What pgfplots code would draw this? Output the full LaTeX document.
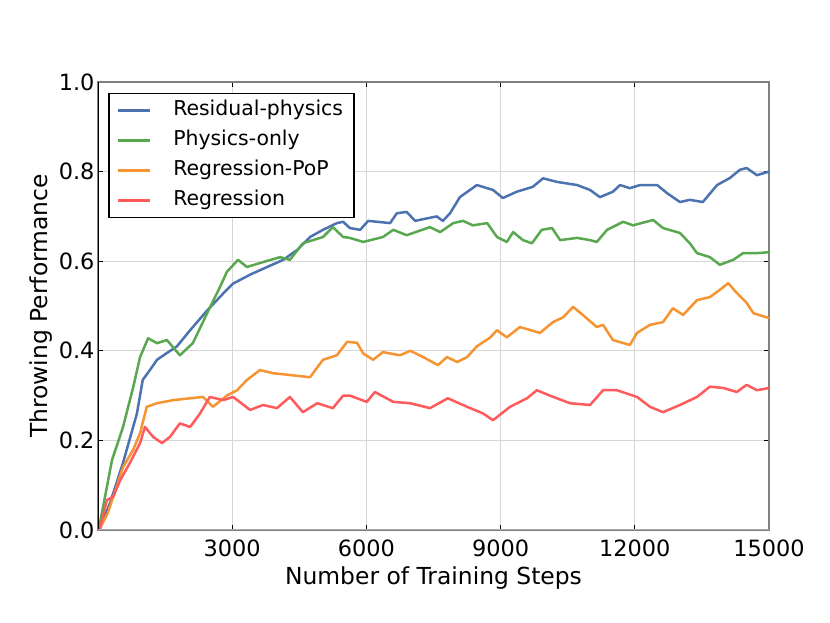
\documentclass[border=0pt]{standalone}
\usepackage{fontspec}
\setmainfont{DejaVu Sans}
\usepackage{pgfplots}
\pgfplotsset{compat=1.18}
\definecolor{cblue}{RGB}{76,114,176}
\definecolor{cgreen}{RGB}{89,168,80}
\definecolor{corange}{RGB}{246,148,50}
\definecolor{cred}{RGB}{255,90,92}
\definecolor{gridc}{RGB}{215,215,215}
\begin{document}
\begin{tikzpicture}
\path[use as bounding box] (0,0) rectangle (830bp,623bp);
\begin{axis}[
  at={(98bp,93bp)}, anchor=south west,
  scale only axis, width=671bp, height=448bp,
  xmin=0, xmax=15000, ymin=0, ymax=1,
  xtick={3000,6000,9000,12000,15000},
  ytick={0,0.2,0.4,0.6,0.8,1.0},
  /pgf/number format/assume math mode=true,
  xticklabel style={/pgf/number format/set thousands separator={}, yshift=-6bp},
  yticklabel style={/pgf/number format/fixed, /pgf/number format/precision=1, /pgf/number format/fixed zerofill},
  scaled x ticks=false,
  tick label style={font=\fontsize{22.5}{26}\selectfont},
  label style={font=\fontsize{23.5}{28}\selectfont},
  xlabel={Number of Training Steps},
  ylabel={Throwing Performance},
  xlabel style={at={(axis description cs:0.5,-0.074)}, anchor=north},
  ylabel style={at={(axis description cs:-0.0626,0.5)}, anchor=south, rotate=0},
  grid=major,
  major grid style={gridc, line width=1bp},
  tick align=inside,
  xtick pos=both, ytick pos=both,
  major tick length=5bp,
  tick style={black, line width=1.2bp},
  axis line style={draw=gray, line width=2bp},
  legend style={at={(axis description cs:0,1)}, anchor=north west, xshift=10bp, yshift=-11bp,
    draw=black, line width=1.5bp, font=\fontsize{20.5}{24}\selectfont,
    inner xsep=8bp, inner ysep=4bp, row sep=4bp,
    nodes={inner sep=3bp, text height=15bp, text depth=5bp},
    /tikz/every odd column/.append style={column sep=19bp}},
  legend cell align=left,
  legend image code/.code={\draw[#1, line width=2.5bp, line cap=butt] (0bp,0bp) -- (32bp,0bp);},
  every axis plot/.append style={line width=2.5bp, line join=round},
]
% Residual-physics
\addplot[cblue] coordinates {
(0,0) (45,0.004) (268,0.06) (560,0.15) (870,0.26) (1000,0.335) (1160,0.357) (1320,0.38)
(1540,0.395) (1765,0.41) (2060,0.446) (2440,0.49) (2800,0.528) (3020,0.55) (3400,0.57)
(3780,0.587) (4140,0.603) (4450,0.625) (4740,0.654) (5030,0.67) (5340,0.685) (5480,0.688)
(5630,0.674) (5860,0.67) (6040,0.69) (6530,0.685) (6680,0.707) (6900,0.71) (7090,0.69)
(7570,0.70) (7710,0.69) (7870,0.707) (8090,0.743) (8470,0.77) (8830,0.759) (9050,0.741)
(9360,0.755) (9720,0.766) (9950,0.785) (10260,0.777) (10710,0.77) (11000,0.759) (11220,0.743)
(11510,0.755) (11670,0.77) (11890,0.763) (12120,0.77) (12500,0.77) (12720,0.752) (13010,0.732)
(13230,0.737) (13520,0.732) (13840,0.77) (14130,0.786) (14350,0.804) (14500,0.808) (14730,0.792)
(15000,0.80)
};
\addlegendentry{Residual-physics}
% Physics-only
\addplot[cgreen] coordinates {
(0,0) (45,0.016) (313,0.156) (560,0.23) (790,0.32) (940,0.386) (1120,0.428) (1320,0.417)
(1540,0.424) (1830,0.39) (2120,0.417) (2440,0.484) (2730,0.543) (2880,0.576) (3130,0.603)
(3330,0.587) (3690,0.598) (4070,0.609) (4290,0.603) (4580,0.64) (5030,0.654) (5250,0.676)
(5480,0.654) (5630,0.652) (5930,0.643) (6370,0.654) (6600,0.67) (6900,0.658) (7420,0.676)
(7650,0.665) (7940,0.685) (8160,0.69) (8380,0.68) (8700,0.685) (8920,0.654) (9140,0.643)
(9280,0.665) (9500,0.647) (9700,0.64) (9920,0.67) (10150,0.674) (10330,0.647) (10710,0.652)
(11000,0.647) (11150,0.643) (11380,0.67) (11740,0.688) (11960,0.68) (12410,0.692) (12630,0.674)
(13010,0.663) (13230,0.64) (13390,0.618) (13680,0.609) (13900,0.592) (14200,0.603) (14420,0.618)
(14730,0.618) (15000,0.62)
};
\addlegendentry{Physics-only}
% Regression-PoP
\addplot[corange] coordinates {
(0,0) (45,0.004) (220,0.038) (340,0.074) (560,0.14) (790,0.18) (940,0.216) (1090,0.275)
(1320,0.283) (1690,0.29) (2060,0.294) (2350,0.297) (2570,0.275) (2880,0.30) (3110,0.312)
(3330,0.335) (3620,0.357) (3910,0.35) (4290,0.346) (4740,0.341) (5030,0.38) (5340,0.39)
(5570,0.42) (5790,0.418) (5930,0.394) (6150,0.38) (6370,0.397) (6750,0.39) (6980,0.40)
(7270,0.386) (7600,0.368) (7800,0.386) (8030,0.375) (8250,0.386) (8470,0.41) (8760,0.429)
(8920,0.446) (9140,0.43) (9430,0.453) (9880,0.44) (10170,0.464) (10400,0.475) (10620,0.498)
(10840,0.48) (11150,0.453) (11290,0.458) (11510,0.424) (11890,0.413) (12050,0.44) (12340,0.458)
(12630,0.464) (12850,0.495) (13080,0.48) (13390,0.513) (13680,0.52) (13900,0.536) (14090,0.551)
(14280,0.529) (14500,0.507) (14650,0.484) (15000,0.473)
};
\addlegendentry{Regression-PoP}
% Regression
\addplot[cred] coordinates {
(0,0) (45,0.004) (200,0.067) (340,0.074) (490,0.11) (715,0.15) (940,0.194) (1050,0.23)
(1230,0.208) (1430,0.194) (1610,0.208) (1830,0.238) (2060,0.23) (2280,0.26) (2500,0.297)
(2800,0.29) (3020,0.297) (3400,0.268) (3690,0.279) (4000,0.272) (4290,0.297) (4580,0.263)
(4900,0.283) (5250,0.272) (5480,0.30) (5630,0.30) (6010,0.286) (6190,0.308) (6600,0.286)
(6980,0.283) (7420,0.272) (7820,0.294) (8250,0.275) (8610,0.26) (8830,0.245) (9210,0.275)
(9590,0.294) (9810,0.312) (10100,0.30) (10550,0.283) (11000,0.279) (11290,0.312) (11600,0.312)
(12050,0.297) (12340,0.275) (12630,0.263) (13010,0.279) (13390,0.297) (13680,0.32) (13980,0.317)
(14280,0.308) (14500,0.324) (14730,0.312) (15000,0.317)
};
\addlegendentry{Regression}
\draw[black, line width=2bp] (rel axis cs:0,0) -- (rel axis cs:0,1);
\draw[gray!65, line width=2bp] (rel axis cs:0,0) -- (rel axis cs:1,0);
\end{axis}
\end{tikzpicture}
\end{document}
